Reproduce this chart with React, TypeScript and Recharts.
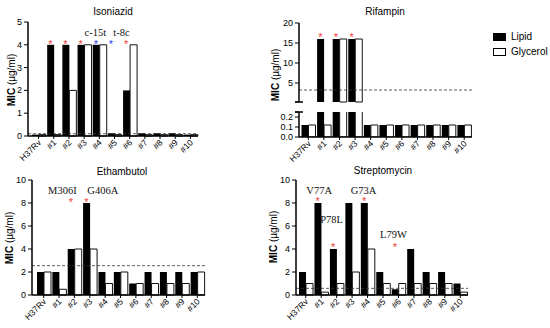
import React from 'react';
import { ComposedChart, Bar, XAxis, YAxis, ReferenceLine, ReferenceDot } from 'recharts';

const STRAINS = ['H37Rv', '#1', '#2', '#3', '#4', '#5', '#6', '#7', '#8', '#9', '#10'];
const SERIES = ['Lipid', 'Glycerol'];

// Isoniazid MIC (µg/ml)
const INH_LIPID = [0.06, 4, 4, 4, 4, 0.12, 2, 0.12, 0.12, 0.12, 0.06];
const INH_GLYCEROL = [0.06, 0.06, 2, 4, 4, 0.06, 4, 0.06, 0.06, 0.06, 0.06];
const INH_CUTOFF = 0.1;
const INH_TICKS = [0, 1, 2, 3, 4, 5];
const INH_STARS = [
  { cat: '#1', y: 4.15, kind: 'coding' },
  { cat: '#2', y: 4.15, kind: 'coding' },
  { cat: '#3', y: 4.15, kind: 'coding' },
  { cat: '#4', y: 4.15, kind: 'promoter' },
  { cat: '#5', y: 4.15, kind: 'promoter' },
  { cat: '#6', y: 4.15, kind: 'coding' },
];
const INH_NOTES = [
  { cat: '#4', y: 4.55, text: 'c-15t' },
  { cat: '#5', y: 4.55, text: 't-8c' },
];

// Rifampin (broken axis)
const RIF_LIPID = [0.12, 16, 16, 16, 0.12, 0.12, 0.12, 0.12, 0.12, 0.12, 0.12];
const RIF_GLYCEROL = [0.12, 0.12, 16, 16, 0.12, 0.12, 0.12, 0.12, 0.12, 0.12, 0.12];
const RIF_BREAK = 0.25;
const RIF_CUTOFF = 3.25;
const RIF_TICKS_TOP = [5, 10, 15, 20];
const RIF_TICKS_LOW = [0, 0.1, 0.2];
const RIF_STARS = [
  { cat: '#1', y: 17.2, kind: 'coding' },
  { cat: '#2', y: 17.2, kind: 'coding' },
  { cat: '#3', y: 17.2, kind: 'coding' },
];

// Ethambutol
const EMB_LIPID = [2, 2, 4, 8, 2, 2, 1, 2, 2, 2, 2];
const EMB_GLYCEROL = [2, 0.5, 4, 4, 1, 2, 1, 1, 1, 1, 2];
const EMB_CUTOFF = 2.55;
const EMB_TICKS = [0, 2, 4, 6, 8, 10];
const EMB_STARS = [
  { cat: '#2', y: 8.3, kind: 'coding' },
  { cat: '#3', y: 8.3, kind: 'coding' },
];
const EMB_NOTES = [
  { cat: '#2', y: 9.05, text: 'M306I' },
  { cat: '#3', y: 9.05, text: 'G406A' },
];

// Streptomycin
const SM_LIPID = [2, 8, 4, 8, 8, 2, 0.5, 4, 2, 2, 1];
const SM_GLYCEROL = [1, 0.25, 1, 2, 4, 1, 1, 1, 1, 1, 0.25];
const SM_CUTOFF = 0.58;
const SM_TICKS = [0, 2, 4, 6, 8, 10];
const SM_STARS = [
  { cat: '#1', y: 8.35, kind: 'coding' },
  { cat: '#2', y: 4.4, kind: 'coding' },
  { cat: '#4', y: 8.35, kind: 'coding' },
  { cat: '#6', y: 4.4, kind: 'coding' },
];
const SM_NOTES = [
  { cat: '#1', y: 9.1, text: 'V77A' },
  { cat: '#2', y: 6.6, text: 'P78L' },
  { cat: '#4', y: 9.1, text: 'G73A' },
  { cat: '#6', y: 5.3, text: 'L79W' },
];

// horizontal nudges for the mutation labels (px)
const NOTE_DX: Record<string, number> = {
  'c-15t': -4, 't-8c': 7, M306I: -12, G406A: 13,
  V77A: -2, P78L: -5, G73A: -4, L79W: -5,
};
const STAR_COLOR: Record<string, string> = { coding: '#f23b3b', promoter: '#2f3cf2' };

const Y_W = 26;
const TICK = 4;
const TICK_GAP = 2;
const SANS = '"Liberation Sans", Arial, sans-serif';
const SERIF = '"Liberation Serif", "Times New Roman", serif';

const XTick = (p: any) => (
  <text
    transform={`translate(${p.x + 1},${p.y + 1}) rotate(-45)`}
    textAnchor="end"
    dominantBaseline="central"
    fontSize={8.5}
    fill="#000"
  >
    {p.payload.value}
  </text>
);

const YTick = (p: any) => {
  const ax = p.x + TICK + TICK_GAP;
  if (p.cap !== undefined && p.payload.value === p.cap) {
    return <line x1={ax - 4} x2={ax + 4} y1={p.y} y2={p.y} stroke="#000" strokeWidth={1.5} />;
  }
  return (
    <text x={p.x} y={p.y} dy={3} textAnchor="end" fontSize={9} fill="#000">
      {p.fmt ? p.fmt(p.payload.value) : p.payload.value}
    </text>
  );
};

const Panel = (props: any) => {
  const {
    x, y, w, h, lipid, glycerol, domain, ticks, cutoff, stars = [], notes = [],
    pad, showX = true, overflow = false, cap, fmt,
  } = props;
  const data = STRAINS.map((name, i) => ({ name, lipid: lipid[i], glycerol: glycerol[i] }));
  const xh = showX ? 36 : 0;
  const mt = 6;
  return (
    <div style={{ position: 'absolute', left: x - Y_W, top: y - mt }}>
      <ComposedChart
        width={Y_W + w + 4}
        height={mt + h + xh + 1}
        data={data}
        margin={{ top: mt, right: 4, bottom: 1, left: 0 }}
        barCategoryGap={1}
        barGap={0}
      >
        <XAxis
          dataKey="name"
          hide={!showX}
          height={xh}
          padding={{ left: pad, right: 0 }}
          axisLine={{ stroke: '#000', strokeWidth: 1.5 }}
          tickLine={{ stroke: '#000' }}
          tickSize={3}
          tickMargin={1}
          interval={0}
          tick={(t: any) => <XTick {...t} />}
        />
        <YAxis
          width={Y_W}
          domain={domain}
          ticks={ticks}
          allowDataOverflow={overflow}
          interval={0}
          tickSize={TICK}
          tickMargin={TICK_GAP}
          axisLine={{ stroke: '#000', strokeWidth: 1.5 }}
          tickLine={{ stroke: '#000' }}
          tick={(t: any) => <YTick {...t} cap={cap} fmt={fmt} />}
        />
        <Bar dataKey="lipid" name={SERIES[0]} fill="#000" isAnimationActive={false} />
        <Bar
          dataKey="glycerol"
          name={SERIES[1]}
          fill="#fff"
          stroke="#111"
          strokeWidth={1}
          isAnimationActive={false}
        />
        {cutoff !== undefined && (
          <ReferenceLine y={cutoff} stroke="#333" strokeWidth={0.8} strokeDasharray="3 2" />
        )}
        {stars.map((s: any, i: number) => (
          <ReferenceDot
            key={`s${i}`}
            x={s.cat}
            y={s.y}
            r={1}
            shape={(d: any) => (
              <text x={d.cx - 3.5} y={d.cy + 6.4} textAnchor="middle" fontSize={11} fill={STAR_COLOR[s.kind]}>
                *
              </text>
            )}
          />
        ))}
        {notes.map((n: any, i: number) => (
          <ReferenceDot
            key={`n${i}`}
            x={n.cat}
            y={n.y}
            r={1}
            shape={(d: any) => (
              <text
                x={d.cx + (NOTE_DX[n.text] || 0)}
                y={d.cy}
                textAnchor="middle"
                dominantBaseline="central"
                fontSize={10.5}
                fontFamily={SERIF}
                fill="#111"
              >
                {n.text}
              </text>
            )}
          />
        ))}
      </ComposedChart>
    </div>
  );
};

const Label = ({ x, y, children, rotate = false }: any) => (
  <div
    style={{
      position: 'absolute',
      left: x,
      top: y,
      transform: `translate(-50%, -50%)${rotate ? ' rotate(-90deg)' : ''}`,
      whiteSpace: 'nowrap',
      fontSize: 10,
      lineHeight: 1,
    }}
  >
    {children}
  </div>
);

const MicTitle = () => (
  <span>
    <b>MIC</b> (µg/ml)
  </span>
);

const App = () => {
  const rifTopLipid = RIF_LIPID.map((v) => (v > RIF_BREAK ? v : null));
  const rifTopGlycerol = RIF_GLYCEROL.map((v) => (v > RIF_BREAK ? v : null));
  return (
    <div
      style={{
        position: 'absolute',
        left: 0,
        top: 0,
        width: 550,
        height: 328,
        background: '#fff',
        fontFamily: SANS,
        color: '#000',
      }}
    >
      <Label x={113} y={12}>Isoniazid</Label>
      <Label x={385} y={12}>Rifampin</Label>
      <Label x={122} y={172}>Ethambutol</Label>
      <Label x={383} y={171}>Streptomycin</Label>

      <Label x={12} y={80} rotate><MicTitle /></Label>
      <Label x={276} y={75} rotate><MicTitle /></Label>
      <Label x={10} y={238} rotate><MicTitle /></Label>
      <Label x={274} y={237} rotate><MicTitle /></Label>

      <Panel
        x={28} y={22} w={170} h={114} pad={3}
        lipid={INH_LIPID} glycerol={INH_GLYCEROL}
        domain={[0, 5]} ticks={INH_TICKS} cutoff={INH_CUTOFF}
        stars={INH_STARS} notes={INH_NOTES}
      />

      <Panel
        x={299} y={23} w={173} h={79} pad={1.5} showX={false}
        lipid={rifTopLipid} glycerol={rifTopGlycerol}
        domain={[RIF_BREAK, 20]} ticks={[RIF_BREAK, ...RIF_TICKS_TOP]} cap={RIF_BREAK}
        cutoff={RIF_CUTOFF} stars={RIF_STARS}
      />
      <Panel
        x={299} y={112} w={173} h={25} pad={1.5} overflow
        lipid={RIF_LIPID} glycerol={RIF_GLYCEROL}
        domain={[0, RIF_BREAK]} ticks={[...RIF_TICKS_LOW, RIF_BREAK]} cap={RIF_BREAK}
        fmt={(v: number) => v.toFixed(1)}
      />

      <Panel
        x={32} y={180} w={173} h={115} pad={4}
        lipid={EMB_LIPID} glycerol={EMB_GLYCEROL}
        domain={[0, 10]} ticks={EMB_TICKS} cutoff={EMB_CUTOFF}
        stars={EMB_STARS} notes={EMB_NOTES}
      />

      <Panel
        x={296} y={180} w={172} h={115} pad={2}
        lipid={SM_LIPID} glycerol={SM_GLYCEROL}
        domain={[0, 10]} ticks={SM_TICKS} cutoff={SM_CUTOFF}
        stars={SM_STARS} notes={SM_NOTES}
      />

      {SERIES.map((s, i) => (
        <div key={s} style={{ position: 'absolute', left: 493, top: 33 + i * 15, display: 'flex', alignItems: 'center' }}>
          <div
            style={{
              width: 11,
              height: 6,
              background: i === 0 ? '#000' : '#fff',
              border: '1px solid #000',
            }}
          />
          <span style={{ marginLeft: 5, fontSize: 10, lineHeight: '8px' }}>{s}</span>
        </div>
      ))}
    </div>
  );
};

export default App;
